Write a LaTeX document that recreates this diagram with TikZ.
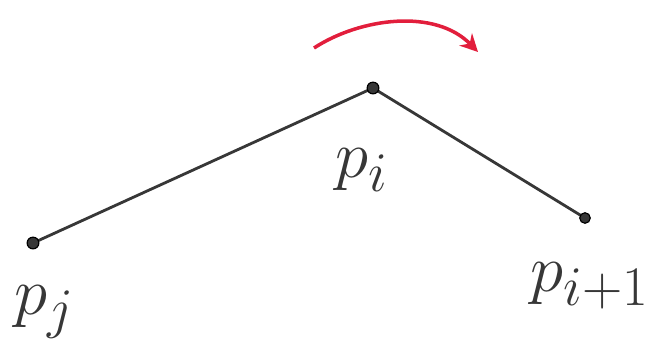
\documentclass[tikz,border=0pt]{standalone}
\usepackage{amsmath}
\usepackage{graphicx}
\usepackage{xcolor}
\usetikzlibrary{calc, positioning}
\usetikzlibrary{arrows.meta}

\definecolor{penred}{RGB}{226,30,60}
\definecolor{pengray}{RGB}{55,55,55}
\newcommand{\biglbl}[1]{\scalebox{2.3}{$#1$}}

\begin{document}
\begin{tikzpicture}[x=0.03cm,y=-0.03cm,
    seg/.style={line width=2.4pt,pengray},
    dot/.style={circle,fill=pengray,draw=black,line width=1pt,inner sep=0pt,minimum size=10pt},
    lbl/.style={text=pengray,font=\Huge,inner sep=0pt}]
\useasboundingbox (0,0) rectangle (654,351);

\coordinate (Pj) at (33,243);
\coordinate (Pi) at (373,88);
\coordinate (Pn) at (585,218);

\draw[seg] (Pj) -- (Pi) -- (Pn);
\node[dot] at (Pj) {};
\node[dot] at (Pi) {};
\node[dot,minimum size=9pt] at (Pn) {};

\node[lbl] (Lj) at (45,312) {\biglbl{p_j}};
\node[lbl] (Li) at (362,170) {\biglbl{p_i}};
\node[lbl,anchor=east] (Ln) at (650,286) {\biglbl{p_{i+1}}};

\draw[penred,line width=3pt,-{Stealth[length=15pt,width=15pt]}]
    (314,48) .. controls (360,18) and (435,8) .. (478,52);
\end{tikzpicture}
\end{document}
